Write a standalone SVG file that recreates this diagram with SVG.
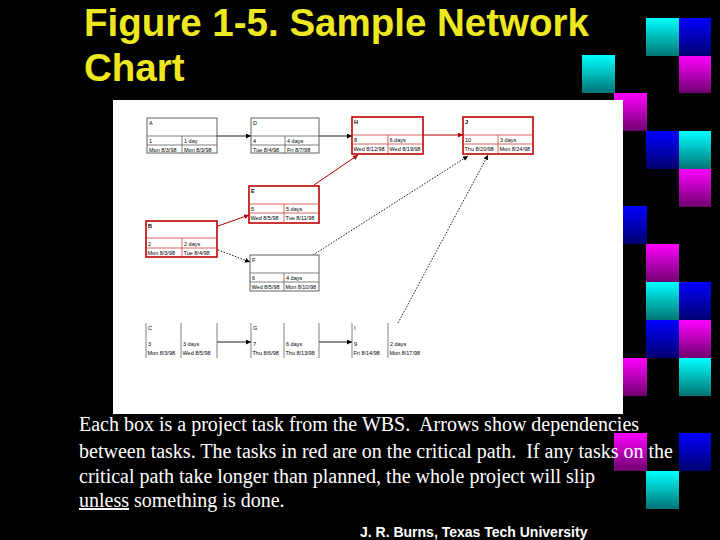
<svg xmlns="http://www.w3.org/2000/svg" width="720" height="540" viewBox="0 0 720 540">
<defs>
<linearGradient id="gc" x1="0" y1="0" x2="0" y2="1"><stop offset="0" stop-color="#00ffff"/><stop offset="1" stop-color="#007474"/></linearGradient>
<linearGradient id="gm" x1="0" y1="0" x2="0" y2="1"><stop offset="0" stop-color="#ff00ff"/><stop offset="1" stop-color="#700070"/></linearGradient>
<linearGradient id="gb" x1="0" y1="0" x2="0" y2="1"><stop offset="0" stop-color="#0000ff"/><stop offset="1" stop-color="#000070"/></linearGradient>
<marker id="ak" viewBox="0 0 10 10" refX="10" refY="5" markerWidth="5" markerHeight="5" orient="auto" markerUnits="userSpaceOnUse"><path d="M0,0 L10,5 L0,10 z" fill="#000"/></marker>
<marker id="ar" viewBox="0 0 10 10" refX="10" refY="5" markerWidth="5" markerHeight="5" orient="auto" markerUnits="userSpaceOnUse"><path d="M0,0 L10,5 L0,10 z" fill="#b00000"/></marker>
</defs>
<style>
.t{font-family:"Liberation Sans",Arial,sans-serif;font-size:5.5px;fill:#000}
.bk rect{fill:#fff;stroke:#606060;stroke-width:1}
.bk line{stroke:#606060;stroke-width:0.8}
.rd rect{fill:#fff;stroke:#c00000;stroke-width:1.6}
.rd line{stroke:#d04040;stroke-width:0.8}
.vl line{stroke:#606060;stroke-width:0.8}
.c{fill:none;stroke:#000;stroke-width:0.9;marker-end:url(#ak)}
.cr{fill:none;stroke:#b00000;stroke-width:1;marker-end:url(#ar)}
.cd{fill:none;stroke:#000;stroke-width:0.9;stroke-dasharray:1.5,1.5;marker-end:url(#ak)}
.body{font-family:"Liberation Serif","Times New Roman",serif;font-size:20px;fill:#fff;white-space:pre}
</style>
<rect width="720" height="540" fill="#000"/>
<g id="squares">
<rect x="646" y="18" width="33" height="38" fill="url(#gc)"/>
<rect x="679" y="18" width="32" height="38" fill="url(#gb)"/>
<rect x="582" y="55" width="33" height="38" fill="url(#gc)"/>
<rect x="679" y="56" width="32" height="37" fill="url(#gm)"/>
<rect x="614" y="93" width="33" height="38" fill="url(#gm)"/>
<rect x="646" y="131" width="33" height="38" fill="url(#gb)"/>
<rect x="679" y="131" width="32" height="38" fill="url(#gc)"/>
<rect x="679" y="169" width="32" height="38" fill="url(#gm)"/>
<rect x="614" y="206" width="33" height="38" fill="url(#gb)"/>
<rect x="646" y="244" width="33" height="38" fill="url(#gm)"/>
<rect x="646" y="282" width="33" height="38" fill="url(#gc)"/>
<rect x="679" y="282" width="32" height="38" fill="url(#gb)"/>
<rect x="646" y="320" width="33" height="38" fill="url(#gb)"/>
<rect x="679" y="320" width="32" height="38" fill="url(#gm)"/>
<rect x="614" y="358" width="33" height="38" fill="url(#gm)"/>
<rect x="679" y="358" width="32" height="38" fill="url(#gc)"/>
<rect x="614" y="433" width="33" height="38" fill="url(#gm)"/>
<rect x="679" y="433" width="32" height="38" fill="url(#gb)"/>
<rect x="646" y="471" width="33" height="38" fill="url(#gc)"/>
</g>
<g id="title" font-family="Liberation Sans,Arial,sans-serif" font-weight="bold" font-size="38.5" fill="#eee820">
<text x="84" y="36">Figure 1-5. Sample Network</text>
<text x="84" y="81">Chart</text>
</g>
<rect id="chart-bg" x="113" y="100" width="510" height="314" fill="#fff"/>
<g id="connectors">
<line class="c" x1="217" y1="136" x2="251" y2="136"/>
<line class="c" x1="319" y1="136" x2="352" y2="136"/>
<line class="cr" x1="423" y1="135" x2="463" y2="135"/>
<line class="cr" x1="314" y1="185" x2="358" y2="155"/>
<line class="cr" x1="218" y1="226" x2="249" y2="215"/>
<line class="cd" x1="218" y1="250" x2="250" y2="262"/>
<line class="cd" x1="313" y1="255" x2="468" y2="156"/>
<line class="cd" x1="398" y1="323" x2="488" y2="155"/>
<line class="c" x1="217" y1="342" x2="251" y2="342"/>
<line class="c" x1="319" y1="342" x2="352" y2="342"/>
</g>
<g id="node-A" class="bk">
<rect x="147" y="118" width="70" height="35"/>
<line x1="147" y1="136" x2="217" y2="136"/><line x1="147" y1="145" x2="217" y2="145"/><line x1="182" y1="136" x2="182" y2="153"/>
<text class="t" x="149" y="125">A</text><text class="t" x="149" y="143">1</text><text class="t" x="184" y="143">1 day</text>
<text class="t" x="149" y="151.5">Mon 8/3/98</text><text class="t" x="184" y="151.5">Mon 8/3/98</text>
</g>
<g id="node-D" class="bk">
<rect x="251" y="118" width="68" height="35"/>
<line x1="251" y1="136" x2="319" y2="136"/><line x1="251" y1="145" x2="319" y2="145"/><line x1="285" y1="136" x2="285" y2="153"/>
<text class="t" x="253" y="125">D</text><text class="t" x="253" y="143">4</text><text class="t" x="287" y="143">4 days</text>
<text class="t" x="253" y="151.5">Tue 8/4/98</text><text class="t" x="287" y="151.5">Fri 8/7/98</text>
</g>
<g id="node-H" class="rd">
<rect x="352" y="117" width="71" height="37"/>
<line x1="352" y1="135" x2="423" y2="135"/><line x1="352" y1="144" x2="423" y2="144"/><line x1="388" y1="135" x2="388" y2="154"/>
<text class="t" x="354" y="124" font-weight="bold">H</text><text class="t" x="354" y="142">8</text><text class="t" x="389.5" y="142">6 days</text>
<text class="t" x="353.5" y="151">Wed 8/12/98</text><text class="t" x="389.5" y="151">Wed 8/19/98</text>
</g>
<g id="node-J" class="rd">
<rect x="463" y="117" width="70" height="37"/>
<line x1="463" y1="135" x2="533" y2="135"/><line x1="463" y1="144" x2="533" y2="144"/><line x1="498" y1="135" x2="498" y2="154"/>
<text class="t" x="465" y="124" font-weight="bold">J</text><text class="t" x="465" y="142">10</text><text class="t" x="500" y="142">3 days</text>
<text class="t" x="464.5" y="151">Thu 8/20/98</text><text class="t" x="499.5" y="151">Mon 8/24/98</text>
</g>
<g id="node-E" class="rd">
<rect x="249" y="186" width="70" height="37"/>
<line x1="249" y1="204" x2="319" y2="204"/><line x1="249" y1="213" x2="319" y2="213"/><line x1="284" y1="204" x2="284" y2="223"/>
<text class="t" x="251" y="193" font-weight="bold">E</text><text class="t" x="251" y="211">5</text><text class="t" x="286" y="211">5 days</text>
<text class="t" x="250.5" y="220">Wed 8/5/98</text><text class="t" x="285.5" y="220">Tue 8/11/98</text>
</g>
<g id="node-B" class="rd">
<rect x="146" y="221" width="71" height="36"/>
<line x1="146" y1="238" x2="217" y2="238"/><line x1="146" y1="248" x2="217" y2="248"/><line x1="182" y1="238" x2="182" y2="257"/>
<text class="t" x="148" y="228" font-weight="bold">B</text><text class="t" x="148" y="246">2</text><text class="t" x="184" y="246">2 days</text>
<text class="t" x="147.5" y="255">Mon 8/3/98</text><text class="t" x="183.5" y="255">Tue 8/4/98</text>
</g>
<g id="node-F" class="bk">
<rect x="250" y="255" width="69" height="36"/>
<line x1="250" y1="273" x2="319" y2="273"/><line x1="250" y1="282" x2="319" y2="282"/><line x1="284" y1="273" x2="284" y2="291"/>
<text class="t" x="252" y="262">F</text><text class="t" x="252" y="280">6</text><text class="t" x="286" y="280">4 days</text>
<text class="t" x="251.5" y="289">Wed 8/5/98</text><text class="t" x="285.5" y="289">Mon 8/10/98</text>
</g>
<g id="node-C" class="vl">
<line x1="146" y1="323" x2="146" y2="358"/><line x1="181" y1="323" x2="181" y2="358"/><line x1="217" y1="323" x2="217" y2="358"/>
<text class="t" x="148" y="330">C</text><text class="t" x="148" y="346">3</text><text class="t" x="183" y="346">3 days</text>
<text class="t" x="147.5" y="355">Mon 8/3/98</text><text class="t" x="182.5" y="355">Wed 8/5/98</text>
</g>
<g id="node-G" class="vl">
<line x1="251" y1="323" x2="251" y2="358"/><line x1="284" y1="323" x2="284" y2="358"/><line x1="319" y1="323" x2="319" y2="358"/>
<text class="t" x="253" y="330">G</text><text class="t" x="253" y="346">7</text><text class="t" x="286" y="346">6 days</text>
<text class="t" x="252.5" y="355">Thu 8/6/98</text><text class="t" x="285.5" y="355">Thu 8/13/98</text>
</g>
<g id="node-I" class="vl">
<line x1="352" y1="323" x2="352" y2="358"/><line x1="388" y1="323" x2="388" y2="358"/>
<text class="t" x="354" y="330">I</text><text class="t" x="354" y="346">9</text><text class="t" x="390" y="346">2 days</text>
<text class="t" x="353.5" y="355">Fri 8/14/98</text><text class="t" x="389.5" y="355">Mon 8/17/98</text>
</g>
<g id="caption" class="body">
<text x="79" y="431" xml:space="preserve">Each box is a project task from the WBS.  Arrows show dependencies</text>
<text x="79" y="458" xml:space="preserve">between tasks. The tasks in red are on the critical path.  If any tasks on the</text>
<text x="79" y="483">critical path take longer than planned, the whole project will slip</text>
<text x="79" y="507"><tspan text-decoration="underline">unless</tspan> something is done.</text>
</g>
<text x="360" y="536.5" font-family="Liberation Sans,Arial,sans-serif" font-weight="bold" font-size="14" fill="#fff">J. R. Burns, Texas Tech University</text>
</svg>
